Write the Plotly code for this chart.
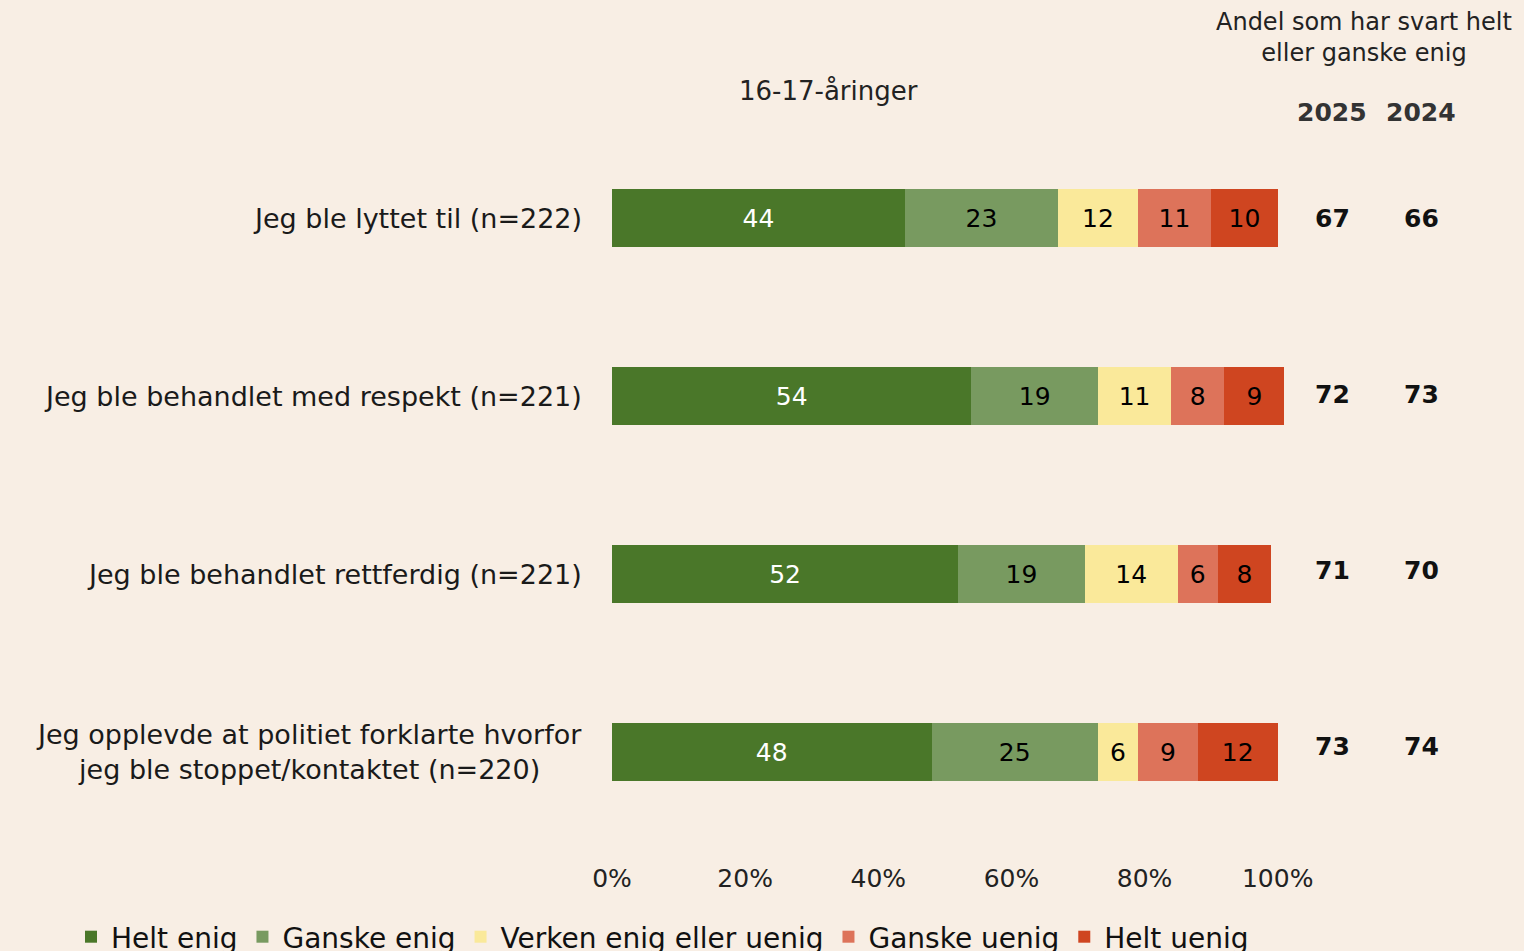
import plotly.graph_objects as go

categories = [
    "Jeg ble lyttet til (n=222)",
    "Jeg ble behandlet med respekt (n=221)",
    "Jeg ble behandlet rettferdig (n=221)",
    "Jeg opplevde at politiet forklarte hvorfor<br>jeg ble stoppet/kontaktet (n=220)",
]
series_names = ["Helt enig", "Ganske enig", "Verken enig eller uenig", "Ganske uenig", "Helt uenig"]
helt_enig = [44, 54, 52, 48]
ganske_enig = [23, 19, 19, 25]
verken = [12, 11, 14, 6]
ganske_uenig = [11, 8, 6, 9]
helt_uenig = [10, 9, 8, 12]
share_2025 = [67, 72, 71, 73]
share_2024 = [66, 73, 70, 74]
x_ticks = [0, 20, 40, 60, 80, 100]
x_tick_labels = ["0%", "20%", "40%", "60%", "80%", "100%"]

colors = ["#4a7729", "#789a60", "#fae99a", "#dd735a", "#cf4520"]
text_colors = ["white", "black", "black", "black", "black"]
series = [helt_enig, ganske_enig, verken, ganske_uenig, helt_uenig]

FONT = "DejaVu Sans, sans-serif"
BG = "#f8eee4"

# plot area geometry (pixels)
L, R_EDGE, T, B = 612, 1291, 129, 841
PW, PH = R_EDGE - L, B - T


def px_x(px):
    return (px - L) / PW


def px_y(py):
    return (B - py) / PH


fig = go.Figure()
ypos = list(range(len(categories)))
for name, vals, col, tc in zip(series_names, series, colors, text_colors):
    fig.add_trace(go.Bar(
        y=ypos, x=vals, name=name, orientation="h",
        marker=dict(color=col, line=dict(width=0)),
        text=[str(v) for v in vals], textposition="inside",
        insidetextanchor="middle", textangle=0,
        textfont=dict(family=FONT, size=25, color=tc),
        width=0.33, hoverinfo="skip",
    ))

ann = []
for i, c in enumerate(categories):
    ann.append(dict(x=0, y=i, xref="x", yref="y", text=c, showarrow=False,
                    xanchor="right", yanchor="middle", xshift=-28, align="center",
                    font=dict(family=FONT, size=27, color="#1a1a1a")))
row_shift = [0, 2, 4, 6]
for i, (a, b) in enumerate(zip(share_2025, share_2024)):
    ann.append(dict(x=px_x(1332), y=i, xref="paper", yref="y", text=f"<b>{a}</b>",
                    showarrow=False, xanchor="center", yanchor="middle", yshift=row_shift[i],
                    font=dict(family=FONT, size=25, color="#111")))
    ann.append(dict(x=px_x(1421), y=i, xref="paper", yref="y", text=f"<b>{b}</b>",
                    showarrow=False, xanchor="center", yanchor="middle", yshift=row_shift[i],
                    font=dict(family=FONT, size=25, color="#111")))
ann.append(dict(x=px_x(1332), y=px_y(112), xref="paper", yref="paper", text="<b>2025</b>",
                showarrow=False, xanchor="center", yanchor="middle",
                font=dict(family=FONT, size=25, color="#333")))
ann.append(dict(x=px_x(1421), y=px_y(112), xref="paper", yref="paper", text="<b>2024</b>",
                showarrow=False, xanchor="center", yanchor="middle",
                font=dict(family=FONT, size=25, color="#333")))
ann.append(dict(x=px_x(1364), y=px_y(37), xref="paper", yref="paper",
                text="Andel som har svart helt<br>eller ganske enig", showarrow=False,
                align="center", xanchor="center", yanchor="middle",
                font=dict(family=FONT, size=24, color="#222")))
ann.append(dict(x=px_x(828), y=px_y(91), xref="paper", yref="paper",
                text="16-17-åringer", showarrow=False, xanchor="center", yanchor="middle",
                font=dict(family=FONT, size=26, color="#222")))

fig.update_layout(
    barmode="stack",
    width=1524, height=951,
    paper_bgcolor=BG, plot_bgcolor=BG,
    margin=dict(l=L, r=1524 - R_EDGE, t=T, b=951 - B, autoexpand=False),
    annotations=ann,
    showlegend=True,
    legend=dict(orientation="h", xref="paper", yref="paper",
                x=px_x(71), xanchor="left", y=px_y(937), yanchor="middle",
                font=dict(family=FONT, size=28, color="#111"),
                itemwidth=30, tracegroupgap=0, bgcolor="rgba(0,0,0,0)",
                traceorder="normal", itemclick=False, itemdoubleclick=False),
    font=dict(family=FONT),
)
fig.update_xaxes(range=[0, 102], tickvals=x_ticks, ticktext=x_tick_labels,
                 showgrid=False, zeroline=False, showline=False, ticks="",
                 ticklabelstandoff=20,
                 tickfont=dict(family=FONT, size=25, color="#222"), fixedrange=True)
fig.update_yaxes(range=[3.5, -0.5], showticklabels=False, showgrid=False,
                 zeroline=False, showline=False, ticks="", fixedrange=True)

fig.write_html("out.html", config={"displayModeBar": False})

with open("out.html", encoding="utf-8") as f:
    html = f.read()
html = html.replace("<head>", "<head><style>html,body{margin:0;padding:0;overflow:hidden;}</style>", 1)
with open("out.html", "w", encoding="utf-8") as f:
    f.write(html)
